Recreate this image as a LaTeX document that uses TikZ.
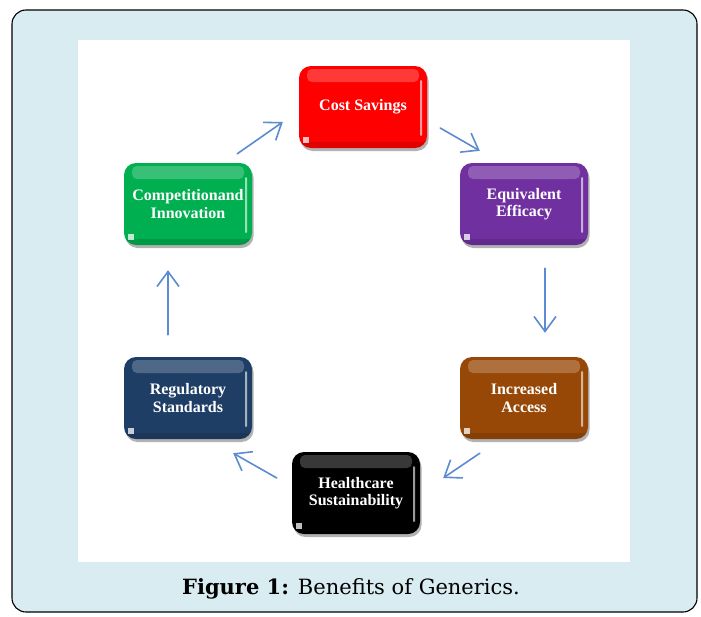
\documentclass[tikz,border=0pt]{standalone}
\usepackage{fontspec}
\usetikzlibrary{shadows,arrows.meta,calc}
\setmainfont{DejaVu Serif}
\newfontfamily\boxfont{Liberation Serif}
\definecolor{panelblue}{HTML}{D8ECF1}
\definecolor{arrowblue}{HTML}{5B8BD0}
\definecolor{costred}{HTML}{FF0000}
\definecolor{effpurple}{HTML}{7030A0}
\definecolor{accbrown}{HTML}{984806}
\definecolor{regnavy}{HTML}{1F3E66}
\definecolor{compgreen}{HTML}{00B050}
\tikzset{
  gbox/.style={
    rounded corners=12pt, minimum width=128pt, minimum height=82pt,
    fill=#1, text=white, align=center, inner sep=2pt,
    font=\boxfont\bfseries\fontsize{16}{17.5}\selectfont,
    drop shadow={shadow xshift=1.5pt, shadow yshift=-3pt, opacity=.3, fill=black},
    path picture={
      % glossy band along the top edge
      \fill[white, opacity=.22, rounded corners=5pt]
        ([xshift=8pt,yshift=-3pt]path picture bounding box.north west)
        rectangle ([xshift=-8pt,yshift=-16pt]path picture bounding box.north east);
      % darker band along the bottom edge
      \fill[black, opacity=.12, sharp corners]
        ([yshift=6pt]path picture bounding box.south west)
        rectangle (path picture bounding box.south east);
      % highlight on the right edge
      \fill[white, opacity=.6, rounded corners=1pt]
        ([xshift=-7pt,yshift=-14pt]path picture bounding box.north east)
        rectangle ([xshift=-5pt,yshift=12pt]path picture bounding box.south east);
      % small highlight in the lower left corner
      \fill[white, opacity=.75, sharp corners]
        ([xshift=4pt,yshift=5pt]path picture bounding box.south west)
        rectangle ([xshift=10pt,yshift=11pt]path picture bounding box.south west);
    }},
  flow/.style={draw=arrowblue, line width=1.6pt, line cap=round,
    -{Straight Barb[length=15pt,width=22pt,line width=1.6pt]}},
}
\begin{document}
\begin{tikzpicture}[x=1pt,y=-1pt]
  \useasboundingbox (0,0) rectangle (701,616);
  % outer panel and white drawing area
  \draw[fill=panelblue, draw=black, line width=1.1pt, rounded corners=14pt]
    (12,10) rectangle (697,612);
  \fill[white] (78,40) rectangle (630,562);

  % the six benefit boxes
  \node[gbox=costred]    (cost)   at (363,107) {Cost Savings};
  \node[gbox=effpurple]  (equiv)  at (524,204) {Equivalent\\Efficacy};
  \node[gbox=accbrown]   (access) at (524,398) {Increased\\Access};
  \node[gbox=black]      (health) at (356,493) {Healthcare\\Sustainability};
  \node[gbox=regnavy]    (reg)    at (188,398) {Regulatory\\Standards};
  \node[gbox=compgreen]  (comp)   at (188,204) {Competitionand\\Innovation};

  % cycle of arrows
  \draw[flow] ([shift={(-15,-9)}]comp.north east) -- ([shift={(-16,15)}]cost.west);
  \draw[flow] ([shift={(13,21)}]cost.east) -- ([shift={(20,-12)}]equiv.north west);
  \draw[flow] ([shift={(21,23)}]equiv.south) -- ([shift={(21,-24)}]access.north);
  \draw[flow] ([shift={(20,14)}]access.south west) -- ([shift={(23,-15)}]health.east);
  \draw[flow] ([shift={(-15,-15)}]health.west) -- ([shift={(-19,14)}]reg.south east);
  \draw[flow] ([shift={(-20,-22)}]reg.north) -- ([shift={(-20,25)}]comp.south);

  % caption
  \node[font=\fontsize{21}{25}\selectfont, anchor=base] (caption) at (351,594)
    {\textbf{Figure 1:} Benefits of Generics.};
\end{tikzpicture}
\end{document}
